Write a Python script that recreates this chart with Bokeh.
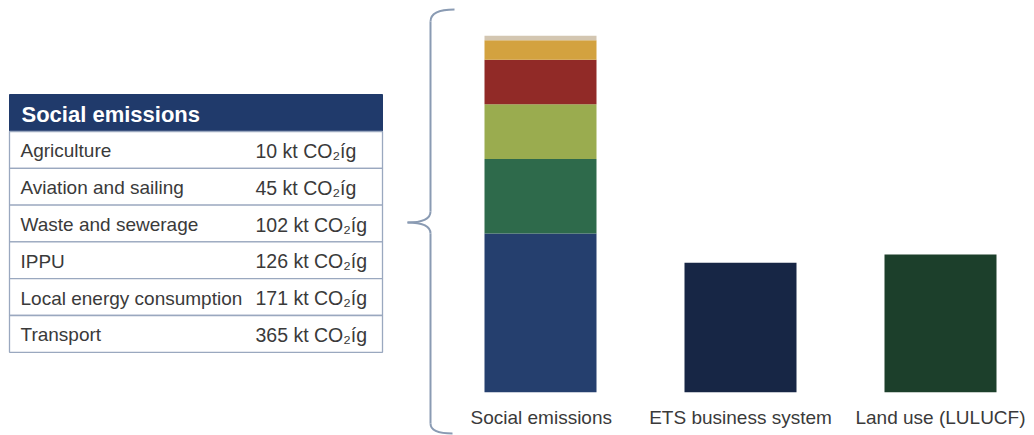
from bokeh.plotting import figure
from bokeh.layouts import row
from bokeh.models import Range1d, FixedTicker, ColumnDataSource
from bokeh.core.properties import value
from bokeh.embed import file_html
from bokeh.resources import INLINE

# ---- data ----
table_title = "Social emissions"
sectors = ["Agriculture", "Aviation and sailing", "Waste and sewerage", "IPPU",
           "Local energy consumption", "Transport"]
sector_values = [10, 45, 102, 126, 171, 365]
unit = "kt CO\u2082íg"

categories = ["Social emissions", "ETS business system", "Land use (LULUCF)"]
ets_value = 298
lulucf_value = 317

# stacking order from bottom up
stack_order = ["Transport", "Local energy consumption", "IPPU", "Waste and sewerage",
               "Aviation and sailing", "Agriculture"]
stack_colors = {"Transport": "#253f6e", "Local energy consumption": "#2e6a4b",
                "IPPU": "#9aac4f", "Waste and sewerage": "#912a27",
                "Aviation and sailing": "#d3a23f", "Agriculture": "#d3c6b1"}

FONT = "Liberation Sans"
TXT = "#3a3a3a"

# ---- left: table + brace ----
L = figure(frame_width=470, frame_height=435, x_range=Range1d(0, 470), y_range=Range1d(435, 0),
           output_backend="svg", toolbar_location=None, min_border=0)
L.min_border_left = L.min_border_right = L.min_border_top = L.min_border_bottom = 0
L.axis.visible = False
L.grid.visible = False
L.outline_line_color = None
L.background_fill_color = "white"

tx0, tx1 = 9, 382
head_top, head_bot = 94, 131
row_h = 36.8
border = "#9aa8bf"

L.quad(left=[tx0], right=[tx1], top=[head_top], bottom=[head_bot], fill_color="#203a6b",
       line_color="#203a6b")
L.text(x=[21], y=[(head_top + head_bot) / 2 + 1], text=[table_title], text_font=value(FONT),
       text_font_size="22px", text_font_style="bold", text_color="white", text_baseline="middle")

n = len(sectors)
tops = [head_bot + i * row_h for i in range(n)]
bots = [t + row_h for t in tops]
L.quad(left=[tx0] * n, right=[tx1] * n, top=tops, bottom=bots, fill_color="white",
       line_color=border, line_width=1.3)
mids = [(t + b) / 2 + 1 for t, b in zip(tops, bots)]
L.text(x=[20] * n, y=mids, text=sectors, text_font=value(FONT), text_font_size="19px",
       text_color=TXT, text_baseline="middle")
L.text(x=[255] * n, y=mids, text=[f"{v} {unit}" for v in sector_values], text_font=value(FONT),
       text_font_size="19.5px", text_color=TXT, text_baseline="middle")

# curly brace
bc = "#8a9bb3"
vx = 430
L.bezier(x0=[454, vx, 407, vx], y0=[9, 211, 222, 423],
         x1=[vx, 407, vx, 452], y1=[21, 222, 233, 433],
         cx0=[438, vx, 420, vx], cy0=[9, 219, 222, 430],
         cx1=[vx, 420, vx, 438], cy1=[13, 222, 225, 433],
         line_color=bc, line_width=2)
L.segment(x0=[vx, vx], y0=[21, 233], x1=[vx, vx], y1=[211, 423], line_color=bc, line_width=2)

# ---- right: bars ----
R = figure(frame_width=564, frame_height=392, x_range=Range1d(-0.35, 2.47), y_range=Range1d(0, 900),
           output_backend="svg", toolbar_location=None)
R.min_border_left = R.min_border_right = R.min_border_top = 0
R.min_border_bottom = 43
R.yaxis.visible = False
R.grid.visible = False
R.outline_line_color = None

bw = 0.56
bottom = 0
lefts, rights, bts, tps, cols = [], [], [], [], []
vals = dict(zip(sectors, sector_values))
for s in stack_order:
    lefts.append(0 - bw / 2); rights.append(0 + bw / 2)
    bts.append(bottom); tps.append(bottom + vals[s]); cols.append(stack_colors[s])
    bottom += vals[s]
R.quad(source=ColumnDataSource(dict(left=lefts, right=rights, bottom=bts, top=tps, color=cols)),
       left="left", right="right", bottom="bottom", top="top", fill_color="color", line_color=None)
R.vbar(x=[1, 2], top=[ets_value, lulucf_value], width=bw, bottom=0,
       fill_color=["#172645", "#1c3f2b"], line_color=None)

xa = R.xaxis[0]
xa.ticker = FixedTicker(ticks=[0, 1, 2])
xa.major_label_overrides = {0: categories[0], 1: categories[1], 2: categories[2]}
xa.axis_line_color = None
xa.major_tick_line_color = None
xa.minor_tick_line_color = None
xa.major_tick_out = 0
xa.major_label_standoff = 14
xa.major_label_text_font = FONT
xa.major_label_text_font_size = "19px"
xa.major_label_text_color = TXT

layout = row(L, R, spacing=0)
open("out.html", "w").write(file_html(layout, INLINE))
